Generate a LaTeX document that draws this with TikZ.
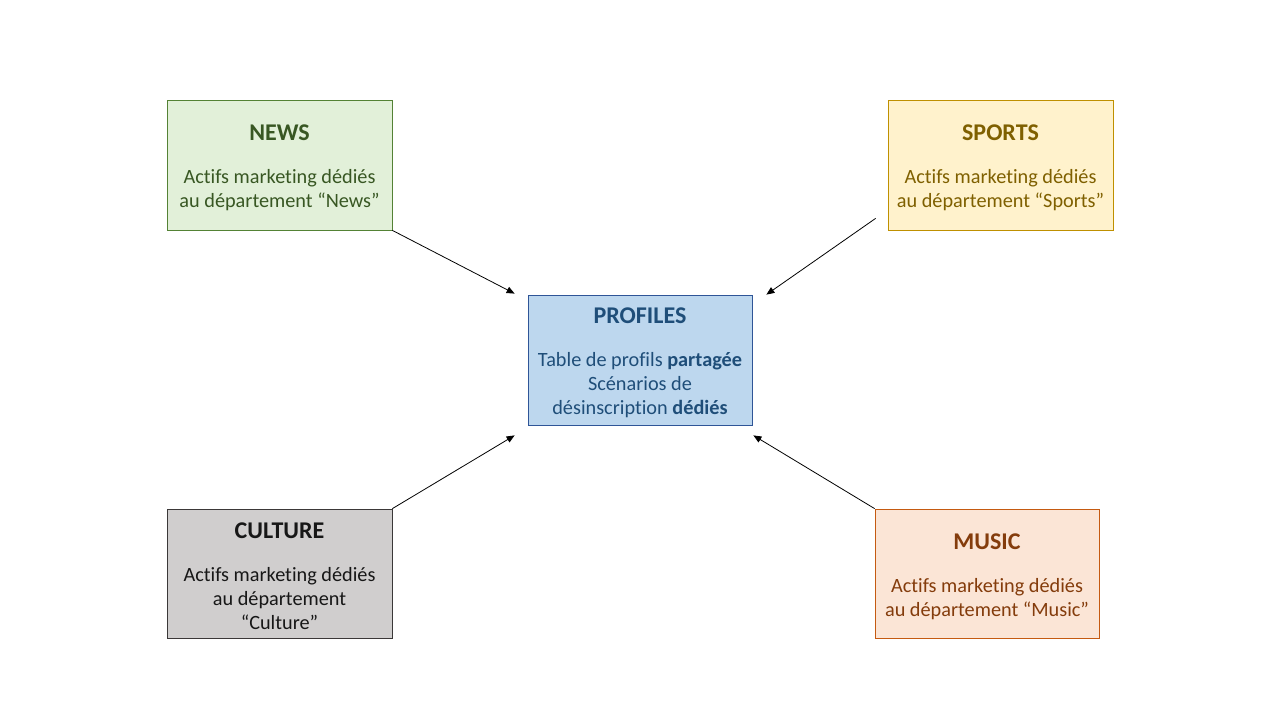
\documentclass[tikz,border=0pt]{standalone}
\usepackage{fontspec}
\setmainfont{Carlito}[Ligatures=NoCommon]
\usetikzlibrary{arrows.meta}
\definecolor{newsfill}{HTML}{E2F0D9}
\definecolor{newsdraw}{HTML}{548235}
\definecolor{newstext}{HTML}{385723}
\definecolor{sportsfill}{HTML}{FFF2CC}
\definecolor{sportsdraw}{HTML}{BF9000}
\definecolor{sportstext}{HTML}{7F6000}
\definecolor{proffill}{HTML}{BDD7EE}
\definecolor{profdraw}{HTML}{2F5597}
\definecolor{proftext}{HTML}{1F4E79}
\definecolor{culfill}{HTML}{D0CECE}
\definecolor{culdraw}{HTML}{3B3838}
\definecolor{cultext}{HTML}{171717}
\definecolor{musfill}{HTML}{FBE5D6}
\definecolor{musdraw}{HTML}{C55A11}
\definecolor{mustext}{HTML}{843C0C}
\tikzset{
  deptbox/.style={draw, line width=0.6pt, rectangle, align=center, inner sep=0pt,
    minimum width=168.75pt, minimum height=97.5pt,
    font=\fontsize{15.2}{18}\selectfont},
  arr/.style={draw=black, line width=0.6pt, -{Triangle[length=6pt,width=5pt]}}
}
\newcommand{\ttl}[1]{{\fontsize{18}{18}\selectfont\bfseries\rule{0pt}{16pt}#1}\\[14.25pt]}
\begin{document}
\begin{tikzpicture}[x=0.75pt,y=-0.75pt]
\useasboundingbox[fill=white] (0,0) rectangle (1280,720);
\node[deptbox, fill=newsfill, draw=newsdraw, text=newstext] (news) at (279.5,165)
  {\ttl{NEWS}Actifs marketing dédiés\\au département “News”};
\node[deptbox, fill=sportsfill, draw=sportsdraw, text=sportstext] (sports) at (1000.5,165)
  {\ttl{SPORTS}Actifs marketing dédiés\\au département “Sports”};
\node[deptbox, fill=proffill, draw=profdraw, text=proftext, minimum width=168pt] (profiles) at (640,360)
  {\ttl{PROFILES}Table de profils \textbf{partagée}\\Scénarios de\\désinscription \textbf{dédiés}};
\node[deptbox, fill=culfill, draw=culdraw, text=cultext, minimum height=96.75pt] (culture) at (279.5,573.5)
  {\ttl{CULTURE}Actifs marketing dédiés\\au département\\“Culture”};
\node[deptbox, fill=musfill, draw=musdraw, text=mustext, minimum width=168pt, minimum height=96.75pt] (music) at (987,573.5)
  {\ttl{MUSIC}Actifs marketing dédiés\\au département “Music”};
\draw[arr] (news.south east) -- ([shift={(-13,-1)}]profiles.north west);
\draw[arr] ([shift={(-12,-12)}]sports.south west) -- ([shift={(14,0)}]profiles.north east);
\draw[arr] (culture.north east) -- ([shift={(-13,10)}]profiles.south west);
\draw[arr] (music.north west) -- ([shift={(1,10)}]profiles.south east);
\end{tikzpicture}
\end{document}
